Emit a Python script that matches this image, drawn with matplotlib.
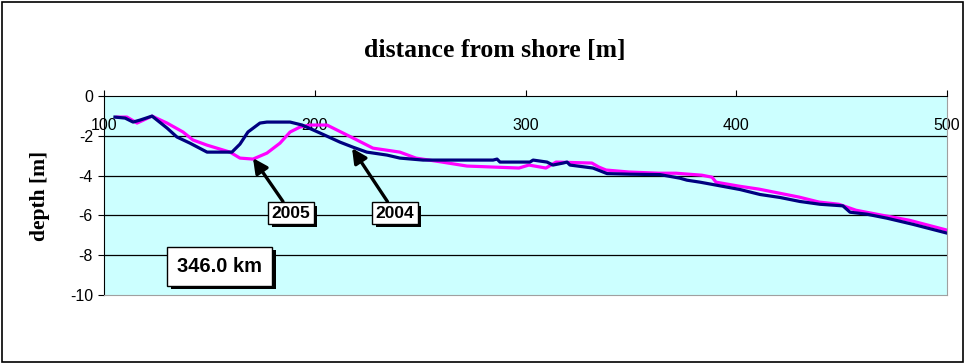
import matplotlib
matplotlib.use('Agg')
import matplotlib.pyplot as plt
import matplotlib.patheffects as pe
from matplotlib.patches import Rectangle

plt.rcParams['axes.unicode_minus'] = False

# profil 2004 (granatowy)
x_2004 = [105.2, 110.0, 113.8, 117.1, 122.8, 129.9, 134.6, 140.8, 148.9, 160.7,
          164.5, 168.3, 174.0, 177.3, 188.3, 194.0, 202.5, 212.0, 218.1, 224.7,
          234.3, 240.4, 251.4, 272.2, 284.6, 286.5, 287.9, 302.1, 303.6, 310.2,
          313.0, 317.8, 319.7, 321.1, 332.0, 336.8, 338.7, 349.6, 363.8, 373.3,
          376.6, 382.8, 389.0, 401.8, 411.3, 420.8, 430.2, 439.7, 450.6, 454.0,
          462.0, 471.5, 483.9, 500.0]
y_2004 = [-1.06, -1.11, -1.31, -1.21, -1.01, -1.61, -2.06, -2.37, -2.82, -2.82,
          -2.42, -1.81, -1.36, -1.31, -1.31, -1.46, -1.86, -2.32, -2.57, -2.82,
          -2.97, -3.12, -3.22, -3.22, -3.22, -3.17, -3.32, -3.32, -3.22, -3.32,
          -3.47, -3.37, -3.32, -3.47, -3.62, -3.82, -3.90, -3.93, -3.95, -4.13,
          -4.23, -4.33, -4.45, -4.70, -4.95, -5.10, -5.30, -5.44, -5.52, -5.84,
          -5.94, -6.14, -6.45, -6.89]

# profil 2005 (rozowy)
x_2005 = [106.2, 110.9, 115.7, 122.8, 129.9, 137.5, 142.2, 148.9, 159.8, 164.5,
          170.7, 177.3, 183.5, 188.3, 193.0, 197.7, 205.8, 213.4, 220.0, 227.6,
          240.4, 248.0, 260.4, 272.2, 296.9, 301.6, 309.7, 314.5, 331.5, 334.8,
          338.2, 349.1, 363.3, 371.4, 383.7, 388.5, 390.4, 401.3, 410.8, 420.3,
          429.8, 439.3, 448.7, 456.8, 469.1, 482.0, 500.0]
y_2005 = [-1.06, -1.06, -1.36, -1.01, -1.36, -1.81, -2.21, -2.47, -2.82, -3.12,
          -3.17, -2.87, -2.37, -1.81, -1.56, -1.46, -1.46, -1.86, -2.21, -2.62,
          -2.82, -3.12, -3.32, -3.52, -3.62, -3.47, -3.62, -3.32, -3.37, -3.57,
          -3.72, -3.82, -3.88, -3.88, -3.98, -4.08, -4.33, -4.53, -4.68, -4.88,
          -5.08, -5.33, -5.44, -5.74, -5.99, -6.24, -6.74]

xticks = [100, 200, 300, 400, 500]
yticks = [0, -2, -4, -6, -8, -10]

fig = plt.figure(figsize=(9.65, 3.63), dpi=100)
fig.patches.append(Rectangle((0.002, 0.004), 0.996, 0.99, transform=fig.transFigure,
                             fill=False, edgecolor='black', linewidth=1.2))
ax = fig.add_axes([104/965, 1-295/363, (947-104)/965, (295-96)/363])
ax.set_facecolor('#CCFFFF')

ax.plot(x_2005, y_2005, color='#FF00FF', linewidth=2.3)
ax.plot(x_2004, y_2004, color='#000080', linewidth=2.3)

ax.set_xlim(100, 500)
ax.set_ylim(-10, 0)
ax.set_xticks(xticks)
ax.set_yticks(yticks)
ax.set_yticklabels([str(v) for v in yticks])
for v in yticks[1:-1]:
    ax.axhline(v, color='black', linewidth=0.9, zorder=1)

ax.tick_params(axis='x', top=True, bottom=False, labeltop=True, labelbottom=False,
               direction='out', length=4, pad=-31, labelsize=11.5, colors='black')
ax.tick_params(axis='y', direction='out', length=4, pad=4, labelsize=11.5)
for lab in ax.get_xticklabels() + ax.get_yticklabels():
    lab.set_fontfamily('Liberation Sans')

ax.spines['top'].set_color('black')
ax.spines['left'].set_color('black')
ax.spines['right'].set_color('#A0A0A0')
ax.spines['bottom'].set_color('#A0A0A0')

fig.text(495/965, 1-50/363, 'distance from shore [m]', ha='center', va='center',
         fontsize=18.5, fontweight='bold', family='Liberation Serif')
fig.text(40/965, 1-196/363, 'depth [m]', ha='center', va='center', rotation=90,
         fontsize=15.5, fontweight='bold', family='Liberation Serif')

shadow = [pe.SimplePatchShadow(offset=(2.5, -2.5), shadow_rgbFace='black', alpha=1.0),
          pe.Normal()]
box = dict(boxstyle='square,pad=0.2', facecolor='white', edgecolor='black', linewidth=1)
arrow = dict(arrowstyle='-|>,head_width=0.35,head_length=0.7', color='black',
             linewidth=2.4, shrinkA=0, shrinkB=0)

t1 = ax.annotate('2005', xy=(170.7, -3.12), xytext=(188.7, -5.88), ha='center', va='center',
                 fontsize=12.5, fontweight='bold', family='Liberation Sans',
                 bbox=box, arrowprops=arrow)
t2 = ax.annotate('2004', xy=(217.7, -2.62), xytext=(238.1, -5.88), ha='center', va='center',
                 fontsize=12.5, fontweight='bold', family='Liberation Sans',
                 bbox=box, arrowprops=arrow)
t3 = ax.text(155.0, -8.55, '346.0 km', ha='center', va='center', fontsize=14.5,
             fontweight='bold', family='Liberation Sans',
             bbox=dict(boxstyle='square,pad=0.5', facecolor='white', edgecolor='black', linewidth=1))
fig.canvas.draw()
for t in (t1, t2, t3):
    t.get_bbox_patch().set_path_effects(shadow)

fig.savefig('out.png', dpi=100)
